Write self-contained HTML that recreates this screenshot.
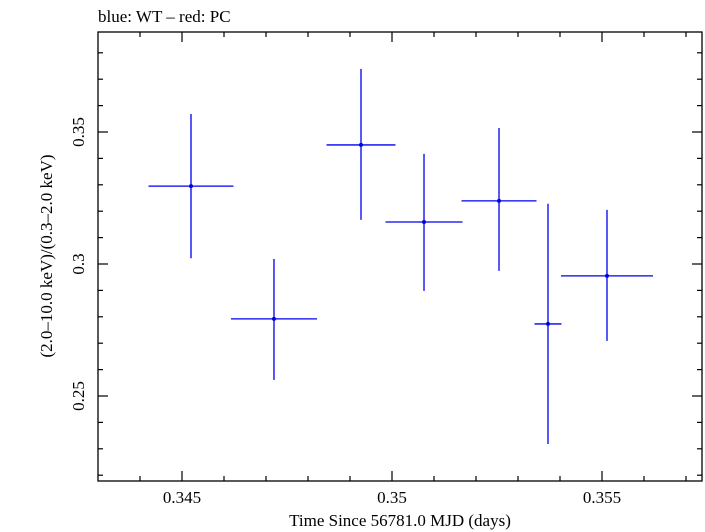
<!DOCTYPE html>
<html><head><meta charset="utf-8"><style>
body{margin:0;background:#fff;}
svg{display:block;font-family:"Liberation Serif",serif;}
</style></head><body>
<svg id="chart" width="705" height="532">
<text x="98" y="22" font-size="17">blue: WT – red: PC</text>
<rect x="98" y="32" width="604" height="449" fill="none" stroke="#000" stroke-width="1.3"/>
<g id="ticks"></g>
<g id="marks"></g>
<text x="400" y="526" font-size="17" text-anchor="middle">Time Since 56781.0 MJD (days)</text>
<text transform="translate(52,256) rotate(-90)" font-size="17" text-anchor="middle">(2.0–10.0 keV)/(0.3–2.0 keV)</text>
</svg>
<script>
const xVals=[0.345214,0.347190,0.349262,0.350762,0.352548,0.353714,0.355119];
const xErr=[0.001012,0.001024,0.000821,0.000917,0.000893,0.000321,0.001095];
const yVals=[0.3295,0.2792,0.3451,0.3159,0.3239,0.2773,0.2955];
const yErrHi=[0.0273,0.0227,0.0288,0.0258,0.0276,0.0455,0.0250];
const yErrLo=[0.0273,0.0231,0.0284,0.0261,0.0265,0.0455,0.0246];
const xTicks=[0.345,0.35,0.355];
const xTickLabels=["0.345","0.35","0.355"];
const yTicks=[0.25,0.3,0.35];
const yTickLabels=["0.25","0.3","0.35"];
const X=v=>182+(v-0.345)*42000;
const Y=v=>132-(v-0.35)*2640;
const NS="http://www.w3.org/2000/svg";
function mk(tag,attrs,parent){const e=document.createElementNS(NS,tag);for(const k in attrs)e.setAttribute(k,attrs[k]);parent.appendChild(e);return e;}
const tg=document.getElementById('ticks');
// minor ticks
for(let i=-4;i<=15;i++){const v=0.343+i*0.001;const x=X(v);if(x<99||x>701)continue;const major=Math.abs((v*1000)%5)<1e-6||Math.abs((v*1000)%5-5)<1e-6;const L=major?10:5;
 const t1=mk('line',{x1:x,x2:x,y1:481,y2:481-L,stroke:'#000','stroke-width':1.2},tg);
 
 
 const t2=mk('line',{x1:x,x2:x,y1:32,y2:32+L,stroke:'#000','stroke-width':1.2},tg);
 
 }
for(let i=0;i<=20;i++){const v=0.22+i*0.01;const y=Y(v);if(y<33||y>480)continue;const major=Math.round(v*100)%5===0;const L=major?10:5;
 const t1=mk('line',{x1:98,x2:98+L,y1:y,y2:y,stroke:'#000','stroke-width':1.2},tg);
 
 
 const t2=mk('line',{x1:702,x2:702-L,y1:y,y2:y,stroke:'#000','stroke-width':1.2},tg);
 
 }
xTicks.forEach((v,i)=>{const t=mk('text',{x:X(v),y:503,'font-size':17,'text-anchor':'middle'},tg);t.textContent=xTickLabels[i];
 
 });
yTicks.forEach((v,i)=>{const t=mk('text',{transform:`translate(84,${Y(v)}) rotate(-90)`,'font-size':17,'text-anchor':'middle'},tg);t.textContent=yTickLabels[i];
 
 });
const mg=document.getElementById('marks');
xVals.forEach((v,i)=>{const g=mk('g',{},mg);
 
 
 const x=X(v),y=Y(yVals[i]);
 mk('line',{x1:X(v-xErr[i]),x2:X(v+xErr[i]),y1:y,y2:y,stroke:'#0000ee','stroke-width':1.3},g);
 mk('line',{x1:x,x2:x,y1:Y(yVals[i]+yErrHi[i]),y2:Y(yVals[i]-yErrLo[i]),stroke:'#0000ee','stroke-width':1.3},g);
 mk('circle',{cx:x,cy:y,r:2,fill:'#0000ee'},g);});
</script>
</body></html>
